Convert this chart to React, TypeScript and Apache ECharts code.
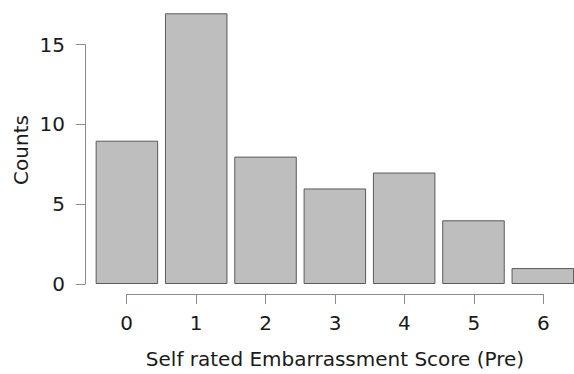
import React, { useEffect, useRef } from "react";
import * as echarts from "echarts";

const scores = [0, 1, 2, 3, 4, 5, 6];
const counts = [9, 17, 8, 6, 7, 4, 1];
const yTicks = [0, 5, 10, 15];
const xTitle = "Self rated Embarrassment Score (Pre)";
const yTitle = "Counts";

const FONT = "DejaVu Sans";
const FS = 20;

export default function App() {
  const ref = useRef<HTMLDivElement>(null);
  useEffect(() => {
    document.body.style.margin = "0";
    if (!ref.current) return;
    const chart = echarts.init(ref.current, null, { renderer: "svg" });
    const gridBottom = 90;
    chart.setOption({
      animation: false,
      textStyle: { fontFamily: FONT },
      grid: [
        { left: 95.7, right: 0, top: 13.3, bottom: gridBottom },
        { left: 126.7, right: 30.7, top: 13.3, bottom: gridBottom },
        { left: 95.7, right: 0, top: 44.6, bottom: gridBottom },
      ],
      xAxis: [
        { gridIndex: 0, type: "value", min: -0.45, max: 6.45, show: false },
        {
          gridIndex: 1,
          type: "value",
          position: "bottom",
          min: scores[0],
          max: scores[scores.length - 1],
          interval: 1,
          offset: 12.7,
          splitLine: { show: false },
          axisLine: { show: true, onZero: false, lineStyle: { color: "#8c8c8c", width: 1 } },
          axisTick: { show: true, length: 10, lineStyle: { color: "#8c8c8c" } },
          axisLabel: { color: "#1a1a1a", fontSize: FS, margin: 19, fontFamily: FONT },
          name: xTitle,
          nameLocation: "middle",
          nameGap: 55,
          nameTextStyle: { color: "#1a1a1a", fontSize: FS, fontFamily: FONT },
        },
        { gridIndex: 2, type: "value", min: 0, max: 1, show: false },
      ],
      yAxis: [
        { gridIndex: 0, type: "value", min: 0, max: 17, show: false },
        { gridIndex: 1, type: "value", min: 0, max: 17, show: false },
        {
          gridIndex: 2,
          type: "value",
          position: "left",
          min: yTicks[0],
          max: yTicks[yTicks.length - 1],
          interval: 5,
          offset: 10.7,
          splitLine: { show: false },
          axisLine: { show: true, onZero: false, lineStyle: { color: "#8c8c8c", width: 1 } },
          axisTick: { show: true, length: 9, lineStyle: { color: "#8c8c8c" } },
          axisLabel: { color: "#1a1a1a", fontSize: FS, margin: 20, fontFamily: FONT },
        },
      ],
      graphic: [
        {
          type: "text",
          x: 21,
          y: 150,
          rotation: Math.PI / 2,
          style: {
            text: yTitle,
            fill: "#1a1a1a",
            font: `${FS}px "${FONT}"`,
            textAlign: "center",
            textVerticalAlign: "middle",
          },
        },
      ],
      series: [
        {
          type: "bar",
          xAxisIndex: 0,
          yAxisIndex: 0,
          data: scores.map((s, i) => [s, counts[i]]),
          barWidth: 62.5,
          itemStyle: { color: "#bebebe", borderColor: "#5a5a5a", borderWidth: 1 },
        },
      ],
    });
    return () => chart.dispose();
  }, []);
  return <div ref={ref} style={{ width: 574, height: 374 }} />;
}
